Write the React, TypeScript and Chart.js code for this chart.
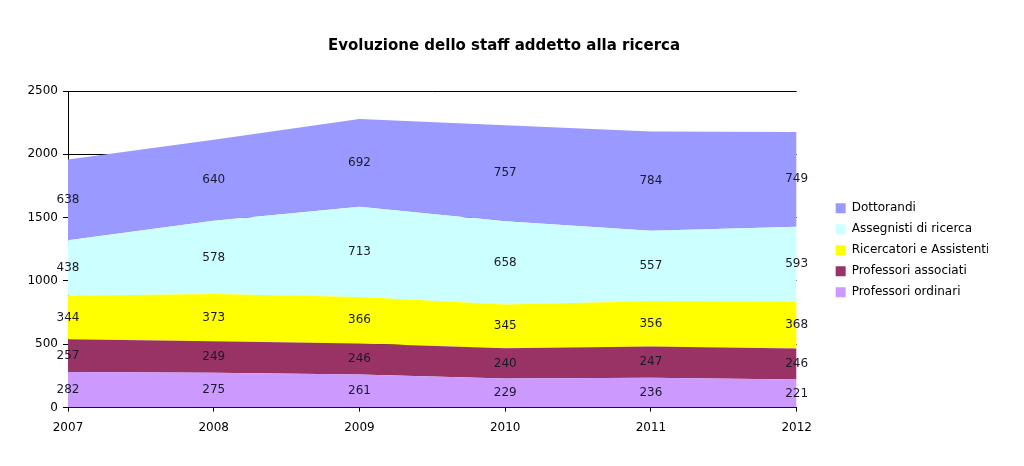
import React, { useEffect, useRef } from "react";
import { Chart, registerables } from "chart.js";

Chart.register(...registerables);

const years = ["2007", "2008", "2009", "2010", "2011", "2012"];
const professoriOrdinari = [282, 275, 261, 229, 236, 221];
const professoriAssociati = [257, 249, 246, 240, 247, 246];
const ricercatori = [344, 373, 366, 345, 356, 368];
const assegnisti = [438, 578, 713, 658, 557, 593];
const dottorandi = [638, 640, 692, 757, 784, 749];
const yTicks = [0, 500, 1000, 1500, 2000, 2500];

const FONT = "'DejaVu Sans', sans-serif";

const bandLabels = {
  id: "bandLabels",
  afterDatasetsDraw(chart: any) {
    const ctx = chart.ctx;
    const yScale = chart.scales.y;
    ctx.save();
    ctx.font = `12px ${FONT}`;
    ctx.fillStyle = "#1a1a2a";
    ctx.textAlign = "center";
    ctx.textBaseline = "middle";
    const n = chart.data.labels.length;
    for (let i = 0; i < n; i++) {
      let base = 0;
      chart.data.datasets.forEach((ds: any, di: number) => {
        const meta = chart.getDatasetMeta(di);
        const v = ds.data[i];
        const yBottom = yScale.getPixelForValue(base);
        const yTop = yScale.getPixelForValue(base + v);
        const x = meta.data[i].x;
        ctx.fillText(String(v), x, (yBottom + yTop) / 2);
        base += v;
      });
    }
    ctx.restore();
  },
};

export default function App() {
  const ref = useRef<HTMLCanvasElement | null>(null);
  useEffect(() => {
    document.body.style.margin = "0";
    const mk = (label: string, data: number[], color: string, fill: any) => ({
      label,
      data,
      backgroundColor: color,
      borderColor: color,
      borderWidth: 0,
      pointRadius: 0,
      tension: 0,
      fill,
    });
    const chart = new Chart(ref.current as HTMLCanvasElement, {
      type: "line",
      data: {
        labels: years,
        datasets: [
          mk("Professori ordinari", professoriOrdinari, "#CC99FF", "origin"),
          mk("Professori associati", professoriAssociati, "#993366", "-1"),
          mk("Ricercatori e Assistenti", ricercatori, "#FFFF00", "-1"),
          mk("Assegnisti di ricerca", assegnisti, "#CCFFFF", "-1"),
          mk("Dottorandi", dottorandi, "#9999FF", "-1"),
        ],
      },
      options: {
        animation: false,
        responsive: true,
        maintainAspectRatio: false,
        layout: { padding: { left: 20, right: 36, top: 0, bottom: 22 } },
        plugins: {
          title: {
            display: true,
            text: "Evoluzione dello staff addetto alla ricerca",
            color: "#000",
            font: { family: FONT, size: 15, weight: "bold" },
            padding: { top: 37, bottom: 36 },
          },
          legend: {
            position: "right",
            reverse: true,
            title: { display: true, text: "", padding: { top: 42, bottom: 0 }, font: { family: FONT, size: 12 } },
            labels: {
              color: "#000",
              font: { family: FONT, size: 12 },
              boxWidth: 10,
              boxHeight: 10,
              padding: 9,
            },
          },
          tooltip: { enabled: false },
        },
        scales: {
          x: {
            offset: false,
            grid: { drawOnChartArea: false, color: "#000", tickLength: 4 },
            border: { color: "#000" },
            ticks: { color: "#000", font: { family: FONT, size: 12 }, padding: 9, maxRotation: 0 },
          },
          y: {
            stacked: true,
            min: 0,
            max: 2500,
            afterBuildTicks: (s: any) => {
              s.ticks = yTicks.map((v) => ({ value: v }));
            },
            afterFit: (s: any) => {
              s.width = 48;
            },
            grid: { color: "#000", tickLength: 5 },
            border: { color: "#000" },
            ticks: {
              color: "#000",
              font: { family: FONT, size: 12 },
              padding: 5,
              callback: (v: any) => String(v),
            },
          },
          gap: {
            position: "right",
            display: true,
            grid: { display: false, drawTicks: false },
            border: { display: false },
            ticks: { display: false },
            afterFit: (s: any) => {
              s.width = 30;
            },
          },
        },
      },
      plugins: [bandLabels],
    } as any);
    return () => chart.destroy();
  }, []);
  return (
    <div style={{ width: 1024, height: 466, position: "relative" }}>
      <canvas ref={ref} />
    </div>
  );
}
